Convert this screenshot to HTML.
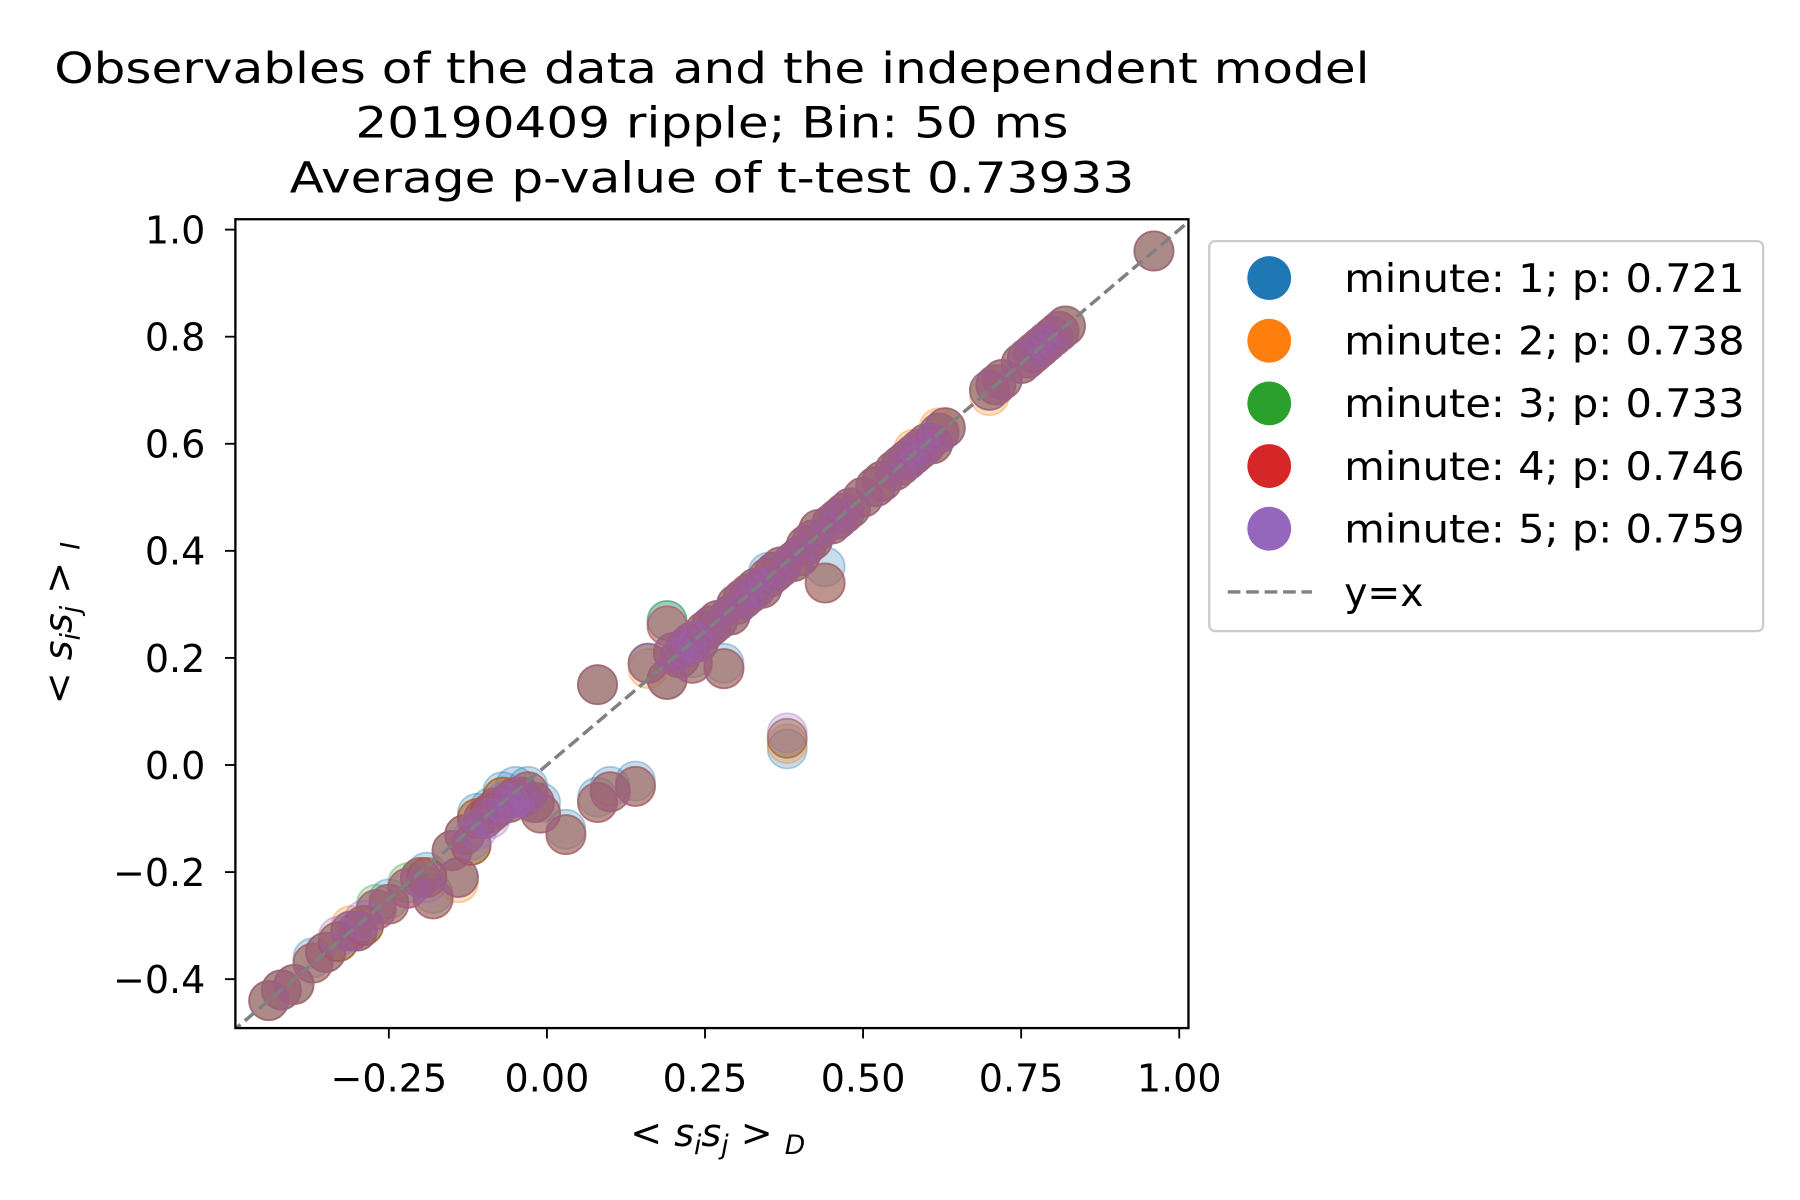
<!DOCTYPE html>
<html><head><meta charset="utf-8">
<style>
html,body{margin:0;padding:0;background:#fff;}
svg{display:block;font-family:"DejaVu Sans","Liberation Sans",sans-serif;}
</style></head>
<body>
<svg id="chart" width="1800" height="1200" viewBox="0 0 1560 1040" xmlns="http://www.w3.org/2000/svg">
<rect width="1560" height="1040" fill="#fff"/>
<g font-size="37" text-anchor="middle" fill="#000">
<text x="617" y="72" textLength="1140" lengthAdjust="spacingAndGlyphs">Observables of the data and the independent model</text>
<text x="617" y="119" textLength="618" lengthAdjust="spacingAndGlyphs">20190409 ripple; Bin: 50 ms</text>
<text x="617" y="167" textLength="732" lengthAdjust="spacingAndGlyphs">Average p-value of t-test 0.73933</text>
</g>
<defs><clipPath id="clip"><rect x="204" y="190" width="826" height="701"/></clipPath></defs>
<g id="points" clip-path="url(#clip)"></g>
<line id="diag" stroke="#808080" stroke-width="3" stroke-dasharray="11,5" clip-path="url(#clip)"/>
<rect x="204" y="190" width="826" height="701" fill="none" stroke="#000" stroke-width="2"/>
<g id="xticks" font-size="33" text-anchor="middle"></g>
<g id="yticks" font-size="33" text-anchor="end"></g>
<text x="622" y="993" font-size="33" text-anchor="middle" font-style="italic">&lt; s<tspan font-size="23" dy="7">i</tspan><tspan dy="-7">s</tspan><tspan font-size="23" dy="7">j</tspan><tspan dy="-7"> &gt; </tspan><tspan font-size="23" dy="7">D</tspan></text>
<text transform="translate(62,540) rotate(-90)" font-size="33" text-anchor="middle" font-style="italic">&lt; s<tspan font-size="23" dy="7">i</tspan><tspan dy="-7">s</tspan><tspan font-size="23" dy="7">j</tspan><tspan dy="-7"> &gt; </tspan><tspan font-size="23" dy="7">I</tspan></text>
<g>
<rect x="1048" y="209" width="480" height="338" rx="5" fill="#fff" stroke="#ccc" stroke-width="2"/>
<g id="legend-items" font-size="34"></g>
</g>
</svg>
<script>
const colors=['#1f77b4','#ff7f0e','#2ca02c','#d62728','#9467bd'];
const labels=['minute: 1; p: 0.721','minute: 2; p: 0.738','minute: 3; p: 0.733','minute: 4; p: 0.746','minute: 5; p: 0.759'];
const xTicks=[-0.25,0,0.25,0.5,0.75,1.0];
const xTickLabels=['\u22120.25','0.00','0.25','0.50','0.75','1.00'];
const yTicks=[-0.4,-0.2,0,0.2,0.4,0.6,0.8,1.0];
const yTickLabels=['\u22120.4','\u22120.2','0.0','0.2','0.4','0.6','0.8','1.0'];
const dataX=[-0.44,-0.42,-0.40,-0.37,-0.33,-0.31,-0.29,-0.27,-0.25,-0.22,-0.19,-0.18,-0.14,-0.12,-0.11,-0.09,-0.07,-0.05,-0.03,-0.01,0.03,0.08,0.10,0.14,0.08,0.16,0.19,0.19,0.23,0.28,0.25,0.30,0.35,0.38,0.40,0.44,0.43,0.47,0.50,0.55,0.58,0.62,0.70,0.75,0.78,0.81,0.96];
const min1Y=[-0.44,-0.42,-0.41,-0.36,-0.33,-0.31,-0.30,-0.27,-0.25,-0.23,-0.20,-0.24,-0.21,-0.15,-0.09,-0.08,-0.05,-0.04,-0.04,-0.07,-0.12,-0.06,-0.04,-0.03,0.15,0.19,0.27,0.16,0.20,0.19,0.25,0.30,0.36,0.03,0.39,0.37,0.44,0.47,0.50,0.55,0.58,0.62,0.70,0.75,0.78,0.81,0.96];
const min2Y=[-0.44,-0.42,-0.41,-0.37,-0.33,-0.30,-0.30,-0.27,-0.26,-0.23,-0.21,-0.25,-0.22,-0.15,-0.10,-0.09,-0.06,-0.06,-0.05,-0.09,-0.13,-0.07,-0.05,-0.04,0.15,0.18,0.26,0.16,0.19,0.18,0.25,0.30,0.35,0.04,0.39,0.34,0.44,0.47,0.50,0.55,0.59,0.63,0.69,0.75,0.78,0.81,0.96];
const min3Y=[-0.44,-0.42,-0.41,-0.37,-0.33,-0.31,-0.30,-0.26,-0.26,-0.22,-0.21,-0.25,-0.21,-0.15,-0.10,-0.09,-0.06,-0.06,-0.05,-0.09,-0.13,-0.07,-0.05,-0.04,0.15,0.19,0.27,0.16,0.19,0.18,0.25,0.30,0.35,0.05,0.39,0.34,0.44,0.47,0.50,0.55,0.58,0.62,0.70,0.75,0.78,0.81,0.96];
const min4Y=[-0.44,-0.42,-0.41,-0.37,-0.33,-0.31,-0.30,-0.27,-0.26,-0.23,-0.21,-0.25,-0.21,-0.15,-0.10,-0.09,-0.06,-0.06,-0.05,-0.09,-0.13,-0.07,-0.05,-0.04,0.15,0.19,0.26,0.16,0.19,0.18,0.25,0.30,0.35,0.05,0.39,0.34,0.44,0.47,0.50,0.55,0.58,0.62,0.70,0.75,0.78,0.81,0.96];
const min5Y=[-0.44,-0.42,-0.41,-0.37,-0.32,-0.31,-0.29,-0.27,-0.26,-0.23,-0.22,-0.25,-0.21,-0.14,-0.12,-0.10,-0.07,-0.06,-0.05,-0.09,-0.13,-0.07,-0.05,-0.04,0.15,0.19,0.26,0.16,0.19,0.18,0.25,0.30,0.35,0.06,0.39,0.34,0.44,0.47,0.50,0.55,0.58,0.62,0.70,0.75,0.78,0.81,0.96];
const seriesY=[min1Y,min2Y,min3Y,min4Y,min5Y];
// additional dense-band pairs (same for all minutes)
const bandX=[0.21,0.22,0.24,0.26,0.27,0.29,0.31,0.32,0.33,0.34,0.36,0.37,0.39,0.41,0.42,0.45,0.46,0.48,0.52,0.53,0.56,0.57,0.59,0.60,0.61,0.63,0.71,0.72,0.76,0.77,0.79,0.80,0.82,-0.13,-0.10,-0.08,-0.06,-0.04,-0.35,-0.30,-0.20,-0.15,-0.02,0.20,0.23];
const bandY=[0.20,0.22,0.23,0.26,0.27,0.28,0.31,0.32,0.33,0.33,0.36,0.37,0.38,0.41,0.42,0.45,0.46,0.48,0.52,0.53,0.56,0.57,0.59,0.60,0.60,0.63,0.71,0.72,0.76,0.77,0.79,0.80,0.82,-0.13,-0.10,-0.08,-0.07,-0.06,-0.35,-0.31,-0.21,-0.16,-0.07,0.21,0.23];
const NS='http://www.w3.org/2000/svg';
function xs(v){return 474+548*v;}
function ys(v){return 663-464*v;}
const pts=document.getElementById('points');
function dot(x,y,s){
  const c=document.createElementNS(NS,'circle');
  c.setAttribute('cx',xs(x));c.setAttribute('cy',ys(y));c.setAttribute('r',17);
  c.setAttribute('fill',colors[s]);c.setAttribute('fill-opacity',0.25);
  c.setAttribute('stroke',colors[s]);c.setAttribute('stroke-opacity',0.35);c.setAttribute('stroke-width',1.5);
  
  
  pts.appendChild(c);
}
seriesY.forEach((arr,s)=>{
  arr.forEach((yv,i)=>dot(dataX[i],yv,s));
  bandX.forEach((xv,i)=>dot(xv,bandY[i],s));
});
const d=document.getElementById('diag');
d.setAttribute('x1',xs(-0.5));d.setAttribute('y1',ys(-0.5));d.setAttribute('x2',xs(1.05));d.setAttribute('y2',ys(1.05));
const xg=document.getElementById('xticks');
xTicks.forEach((v,i)=>{
  const l=document.createElementNS(NS,'line');
  l.setAttribute('x1',xs(v));l.setAttribute('x2',xs(v));l.setAttribute('y1',891);l.setAttribute('y2',900);l.setAttribute('stroke','#000');l.setAttribute('stroke-width',1.6);
  
  
  xg.appendChild(l);
  const t=document.createElementNS(NS,'text');
  t.setAttribute('x',xs(v));t.setAttribute('y',946);t.textContent=xTickLabels[i];
  
  
  xg.appendChild(t);
});
const yg=document.getElementById('yticks');
yTicks.forEach((v,i)=>{
  const l=document.createElementNS(NS,'line');
  l.setAttribute('x1',195);l.setAttribute('x2',204);l.setAttribute('y1',ys(v));l.setAttribute('y2',ys(v));l.setAttribute('stroke','#000');l.setAttribute('stroke-width',1.6);
  
  
  yg.appendChild(l);
  const t=document.createElementNS(NS,'text');
  t.setAttribute('x',178);t.setAttribute('y',ys(v)+12);t.textContent=yTickLabels[i];
  
  
  yg.appendChild(t);
});
const lg=document.getElementById('legend-items');
labels.forEach((lab,i)=>{
  const y=241+54.3*i;
  const c=document.createElementNS(NS,'circle');
  c.setAttribute('cx',1100);c.setAttribute('cy',y);c.setAttribute('r',19);c.setAttribute('fill',colors[i]);
  
  
  lg.appendChild(c);
  const t=document.createElementNS(NS,'text');
  t.setAttribute('x',1165);t.setAttribute('y',y+12);t.textContent=lab;
  t.setAttribute('textLength',347);t.setAttribute('lengthAdjust','spacingAndGlyphs');
  
  
  lg.appendChild(t);
});
const dl=document.createElementNS(NS,'line');
dl.setAttribute('x1',1064);dl.setAttribute('x2',1137);dl.setAttribute('y1',513);dl.setAttribute('y2',513);
dl.setAttribute('stroke','#808080');dl.setAttribute('stroke-width',3);dl.setAttribute('stroke-dasharray','11,5');


lg.appendChild(dl);
const dt=document.createElementNS(NS,'text');
dt.setAttribute('x',1165);dt.setAttribute('y',525);dt.textContent='y=x';


lg.appendChild(dt);
</script>
</body></html>
